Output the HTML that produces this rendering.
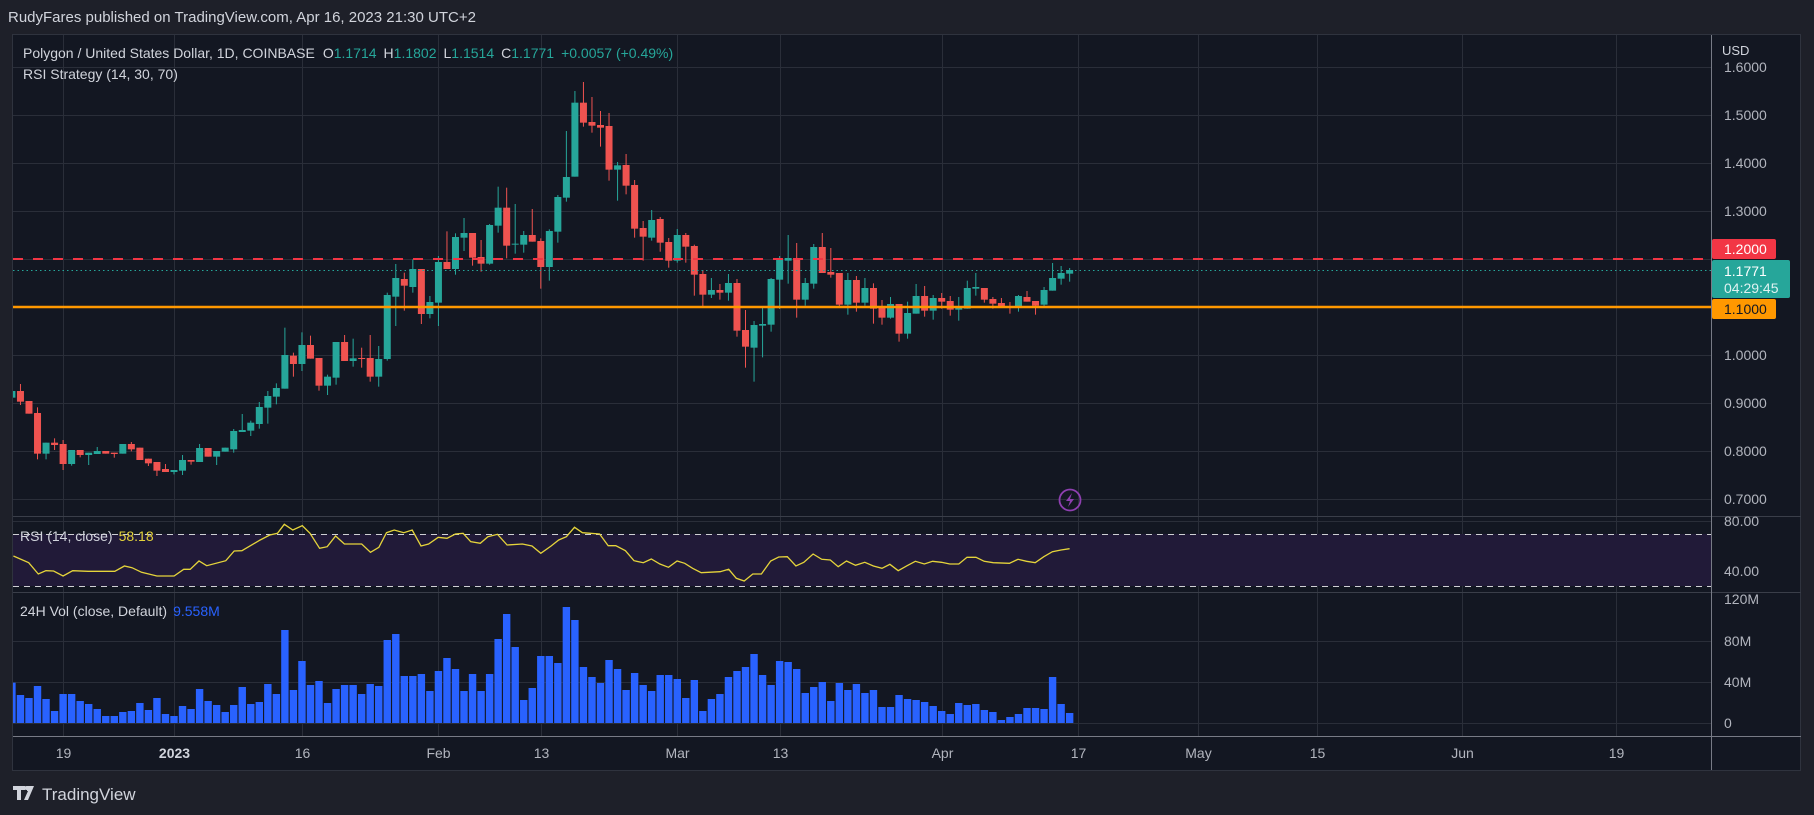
<!DOCTYPE html>
<html><head><meta charset="utf-8">
<style>
html,body{margin:0;padding:0;background:#1e2029;}
body{width:1814px;height:815px;overflow:hidden;font-family:"Liberation Sans",sans-serif;}
svg{display:block}
</style></head>
<body>
<svg id="s" width="1814" height="815" xmlns="http://www.w3.org/2000/svg" font-family="Liberation Sans, sans-serif">
<defs>
<clipPath id="plot"><rect x="13" y="35" width="1698" height="701"/></clipPath>
<clipPath id="top16"><rect x="1712" y="61" width="90" height="20"/></clipPath>
</defs>
<rect width="1814" height="815" fill="#1e2029"/>
<rect x="12.5" y="34.5" width="1788" height="736" fill="#131722" stroke="#2f333e"/>
<g id="grid" stroke="#2a2e39" stroke-width="1"></g>
<rect x="13" y="534" width="1698" height="52" fill="#211a38"/>
<line x1="13" y1="534.5" x2="1711" y2="534.5" stroke="#cfd0d4" stroke-dasharray="6,5"/>
<line x1="13" y1="586.5" x2="1711" y2="586.5" stroke="#cfd0d4" stroke-dasharray="6,5"/>
<line x1="13" y1="516.5" x2="1801" y2="516.5" stroke="#3a3e49"/>
<line x1="13" y1="592.5" x2="1801" y2="592.5" stroke="#3a3e49"/>
<line x1="13" y1="736.5" x2="1801" y2="736.5" stroke="#787b86"/>
<line x1="1711.5" y1="35" x2="1711.5" y2="770" stroke="#787b86"/>
<g clip-path="url(#plot)">
<g id="vol"></g>
<g id="candles"></g>
<polyline id="rsi" fill="none" stroke="#e5d43b" stroke-width="1.3"/>
</g>
<line x1="13" y1="259" x2="1711" y2="259" stroke="#f23645" stroke-width="2" stroke-dasharray="10,10"/>
<line x1="13" y1="270.5" x2="1711" y2="270.5" stroke="#26a69a" stroke-dasharray="1.5,3"/>
<line x1="13" y1="307" x2="1711" y2="307" stroke="#ff9800" stroke-width="2.5"/>
<circle cx="1070" cy="500" r="10.5" fill="none" stroke="#8e3fb0" stroke-width="1.8"/>
<path d="M1072 493 L1066 501 L1070 501 L1068 507 L1074 499 L1070 499 Z" fill="#8e3fb0"/>
<g id="plab" fill="#b2b5be" font-size="14"></g>
<text x="1724" y="72" fill="#b2b5be" font-size="14" clip-path="url(#top16)">1.6000</text>
<rect x="1712" y="239" width="64" height="20" rx="2" fill="#f23645"/>
<text x="1724" y="254" fill="#fff" font-size="14">1.2000</text>
<rect x="1712" y="260" width="78" height="38" rx="2" fill="#26a69a"/>
<text x="1724" y="276" fill="#fff" font-size="14">1.1771</text>
<text x="1724" y="293" fill="#e0f2f1" font-size="14">04:29:45</text>
<rect x="1712" y="299" width="64" height="20" rx="2" fill="#ff9800"/>
<text x="1724" y="314" fill="#131722" font-size="14">1.1000</text>
<g id="tlab" fill="#b2b5be" font-size="14" text-anchor="middle"></g>
<text x="8" y="22" fill="#d1d4dc" font-size="15">RudyFares published on TradingView.com, Apr 16, 2023 21:30 UTC+2</text>
<text x="23" y="58" font-size="14" fill="#d1d4dc">Polygon / United States Dollar, 1D, COINBASE<tspan dx="8">O</tspan><tspan fill="#26a69a">1.1714</tspan><tspan dx="7">H</tspan><tspan fill="#26a69a">1.1802</tspan><tspan dx="7">L</tspan><tspan fill="#26a69a">1.1514</tspan><tspan dx="7">C</tspan><tspan fill="#26a69a">1.1771</tspan><tspan dx="7" fill="#26a69a">+0.0057 (+0.49%)</tspan></text>
<text x="23" y="79" font-size="14" fill="#d1d4dc">RSI Strategy (14, 30, 70)</text>
<text x="20" y="541" font-size="14" fill="#d1d4dc">RSI (14, close)<tspan dx="6" fill="#e5d43b">58.18</tspan></text>
<text x="20" y="616" font-size="14" fill="#d1d4dc">24H Vol (close, Default)<tspan dx="6" fill="#2962ff">9.558M</tspan></text>
<text x="1722" y="55" font-size="13" fill="#d1d4dc">USD</text>
<path d="M13 786 h12 v4 h-4 v10 h-4 v-10 h-4z M27 786 h7 l-6 14 h-4 l4 -9 h-1z" fill="#d1d4dc"/>
<circle cx="26.5" cy="788" r="2" fill="#d1d4dc"/>
<text x="42" y="800" font-size="17" fill="#d1d4dc">TradingView</text>
</svg>
<script>
var NS="http://www.w3.org/2000/svg";
function el(p,t,a,tx){var e=document.createElementNS(NS,t);for(var k in a)e.setAttribute(k,a[k]);if(tx!=null)e.textContent=tx;document.getElementById(p).appendChild(e);return e;}
function X(d){return 174+8.53*d;}
[67,115,163,211,259,307,355,403,451,499].forEach(function(y){el("grid","line",{x1:13,x2:1711,y1:y+.5,y2:y+.5});});
[521,572].forEach(function(y){el("grid","line",{x1:13,x2:1711,y1:y+.5,y2:y+.5});});
[641,682].forEach(function(y){el("grid","line",{x1:13,x2:1711,y1:y+.5,y2:y+.5});});
el("grid","line",{x1:13,x2:1711,y1:723.5,y2:723.5});
var tl=[[-13,"19"],[0,"2023"],[15,"16"],[31,"Feb"],[43,"13"],[59,"Mar"],[71,"13"],[90,"Apr"],[106,"17"],[120,"May"],[134,"15"],[151,"Jun"],[169,"19"]];
tl.forEach(function(t){var x=Math.round(X(t[0]))+.5;el("grid","line",{x1:x,x2:x,y1:35,y2:736});
 var e=el("tlab","text",{x:x,y:758},t[1]);if(t[1]=="2023"){e.setAttribute("font-weight","bold");e.setAttribute("fill","#d1d4dc");}});
[["1.5000",115],["1.4000",163],["1.3000",211],["1.0000",355],["0.9000",403],["0.8000",451],["0.7000",499]].forEach(function(p){el("plab","text",{x:1724,y:p[1]+5},p[0]);});
el("plab","text",{x:1724,y:526},"80.00");
el("plab","text",{x:1724,y:576},"40.00");
el("plab","text",{x:1724,y:604},"120M");
el("plab","text",{x:1724,y:646},"80M");
el("plab","text",{x:1724,y:687},"40M");
el("plab","text",{x:1724,y:728},"0");
var C=[
[963,983,0,0,"G"],[963,995,942,1005,"R"],[993,1031,0,0,"R"],[1029,1151,1012,1168,"R"],[1118,1151,0,1168,"G"],[1118,1125,1105,1140,"R"],[1122,1182,1110,1200,"R"],[1140,1182,0,1187,"G"],[1140,1155,0,1162,"R"],[1148,1155,0,1185,"G"],[1143,1152,1131,0,"G"],[1143,1151,0,0,"R"],[1148,1152,0,1163,"R"],[1122,1151,0,0,"G"],[1122,1138,1116,1144,"R"],[1133,1170,0,0,"R"],[1166,1180,0,1188,"R"],[1176,1202,0,1218,"R"],[1197,1206,1182,0,"R"],
[1200,1206,0,1213,"G"],[1170,1202,1155,1215,"G"],[1170,1175,0,1184,"R"],[1134,1176,1122,0,"G"],[1134,1160,0,0,"R"],[1143,1160,0,1185,"G"],[1133,1145,0,0,"G"],[1083,1138,1077,1148,"G"],[1080,1086,1032,0,"G"],[1058,1082,1052,1098,"G"],[1011,1062,996,1076,"G"],[978,1013,963,1061,"G"],[954,980,940,1003,"G"],[855,956,773,0,"G"],[857,882,848,920,"R"],[825,882,787,903,"G"],[825,866,797,0,"R"],[864,947,0,962,"R"],[920,947,914,975,"G"],[816,923,0,944,"G"],[816,873,795,0,"R"],[865,873,806,890,"G"],[864,866,833,893,"R"],[864,920,795,935,"R"],[867,920,828,950,"G"],[675,867,668,872,"G"],[624,680,582,768,"G"],[627,647,608,722,"R"],[597,651,568,668,"G"],[597,732,0,762,"R"],[696,732,678,745,"G"],[576,698,558,768,"G"],[576,597,484,0,"R"],[501,597,490,614,"G"],[489,503,444,543,"G"],[489,563,0,587,"R"],[561,581,510,605,"R"],[465,581,462,584,"G"],[413,467,350,488,"G"],[413,527,353,565,"R"],[521,524,402,551,"G"],[495,524,483,548,"G"],[495,515,417,0,"R"],[513,591,505,656,"R"],[483,591,478,632,"G"],
[381,485,375,518,"G"],[321,383,183,395,"G"],[98,320,63,0,"G"],[98,158,36,170,"R"],[156,167,81,188,"R"],[165,173,123,230,"R"],[168,299,129,332,"R"],[286,299,276,392,"G"],[285,347,252,373,"R"],[345,476,330,503,"R"],[474,500,453,572,"R"],[450,503,420,512,"G"],[447,518,441,545,"R"],[516,572,504,593,"R"],[495,572,477,578,"G"],[495,530,489,578,"R"],[528,614,524,677,"R"],[612,674,600,708,"R"],[660,674,624,684,"G"],[660,668,642,689,"R"],[639,668,612,692,"G"],[639,782,627,800,"R"],[780,830,720,893,"R"],[765,833,753,935,"G"],[762,767,708,862,"G"],[627,764,624,785,"G"],[570,629,558,717,"G"],[564,572,495,641,"G"],[567,689,519,743,"R"],[639,689,624,707,"G"],[531,641,522,656,"G"],[531,609,489,0,"R"],[606,614,534,623,"R"],[609,704,0,710,"R"],[630,704,609,734,"G"],[630,698,618,725,"R"],[654,698,624,707,"G"],[654,716,640,761,"R"],[711,743,690,764,"R"],[702,743,681,746,"G"],[702,791,0,815,"R"],[729,791,695,806,"G"],[678,731,642,0,"G"],[678,722,648,740,"R"],[684,722,675,749,"G"],[684,695,669,716,"R"],[693,719,678,737,"R"],[713,719,681,752,"G"],[654,716,632,0,"G"],[651,656,609,677,"G"],[654,689,0,698,"R"],[687,701,681,716,"R"],[699,710,684,0,"R"],[708,710,696,731,"R"],[678,710,675,725,"G"],[681,695,663,0,"R"],[693,707,0,734,"R"],[660,704,651,714,"G"],[624,662,579,0,"G"],[609,626,588,644,"G"],[600,611,594,635,"G"]];
function Y(d){return 70+d/3;}
C.forEach(function(c,i){var d=i-19,x=X(d),col=c[4]=="G"?"#26a69a":"#ef5350";
 var bt=Y(c[0]),bb=Y(c[1]),wt=c[2]?Y(c[2]):bt,wb=c[3]?Y(c[3]):bb;
 el("candles","line",{x1:x,x2:x,y1:wt,y2:wb,stroke:col,"stroke-width":1});
 el("candles","rect",{x:x-3.5,y:bt,width:7,height:Math.max(1,bb-bt),fill:col});});
var V=[488,525,534,498,537,573,522,522,543,552,567,588,588,576,573,549,570,534,582,588,558,567,507,543,555,576,555,501,552,546,492,522,330,510,423,495,483,549,507,495,495,522,492,498,360,342,468,468,462,513,453,414,447,513,462,513,462,357,282,381,540,504,408,408,429,
261,300,441,471,489,420,447,510,459,495,513,465,465,477,534,480,573,537,522,471,453,441,402,465,495,423,426,447,519,501,486,543,489,510,492,519,510,561,561,525,537,540,546,558,573,582,549,555,552,570,576,600,591,582,564,564,567,471,552,579];
V.forEach(function(t,i){var x=X(i-19),y=520+t/3;el("vol","rect",{x:x-3.7,y:y,width:7.4,height:723-y,fill:"#2962ff"});});
var R1=[[35,108],[75,128],[100,162],[120,152],[140,153],[165,168],[190,152],[230,154],[300,154],[325,138],[345,143],[370,157],[410,168],[455,168],[480,148],[497,148],[520,123],[540,137],[590,122],[612,93],[632,92],[680,60],[705,45],[725,40],[743,13],[765,30],[790,17],[810,40],[835,85],[855,80],[877,48],[900,72],[945,72],[968,97],[990,82],[1010,38],[1030,30],[1055,38],[1077,30],[1100,78],[1120,72],[1145,52],[1168,55],[1190,42],[1210,40],[1230,65],[1255,70],[1275,50],[1300,43],[1325,75],[1365,72],[1390,78],[1413,100],[1440,78],[1460,60],[1480,50]];
var R2=[[42,22],[65,38],[115,42],[140,77],[162,77],[190,92],[215,122],[242,128],[265,117],[290,132],[315,142],[340,123],[362,130],[385,145],[410,158],[465,155],[490,148],[512,175],[535,183],[560,162],[585,162],[612,123],[635,111],[660,110],[685,138],[708,127],[735,102],[760,118],[785,120],[808,140],[832,123],[858,136],[885,127],[910,138],[935,145],[958,133],[982,152],[1008,137],[1032,124],[1058,132],[1082,124],[1108,127],[1132,132],[1158,132],[1182,112],[1208,112],[1232,124],[1258,128],[1305,130],[1330,118],[1355,124],[1380,128],[1405,110],[1430,95],[1455,90],[1480,86]];
var pts=[];R1.forEach(function(p){pts.push((p[0]/2.613).toFixed(1)+","+(520+p[1]/3).toFixed(1));});
R2.forEach(function(p){pts.push((560+p[0]/2.904).toFixed(1)+","+(520+p[1]/3).toFixed(1));});
document.getElementById("rsi").setAttribute("points",pts.join(" "));
</script>
</body></html>
